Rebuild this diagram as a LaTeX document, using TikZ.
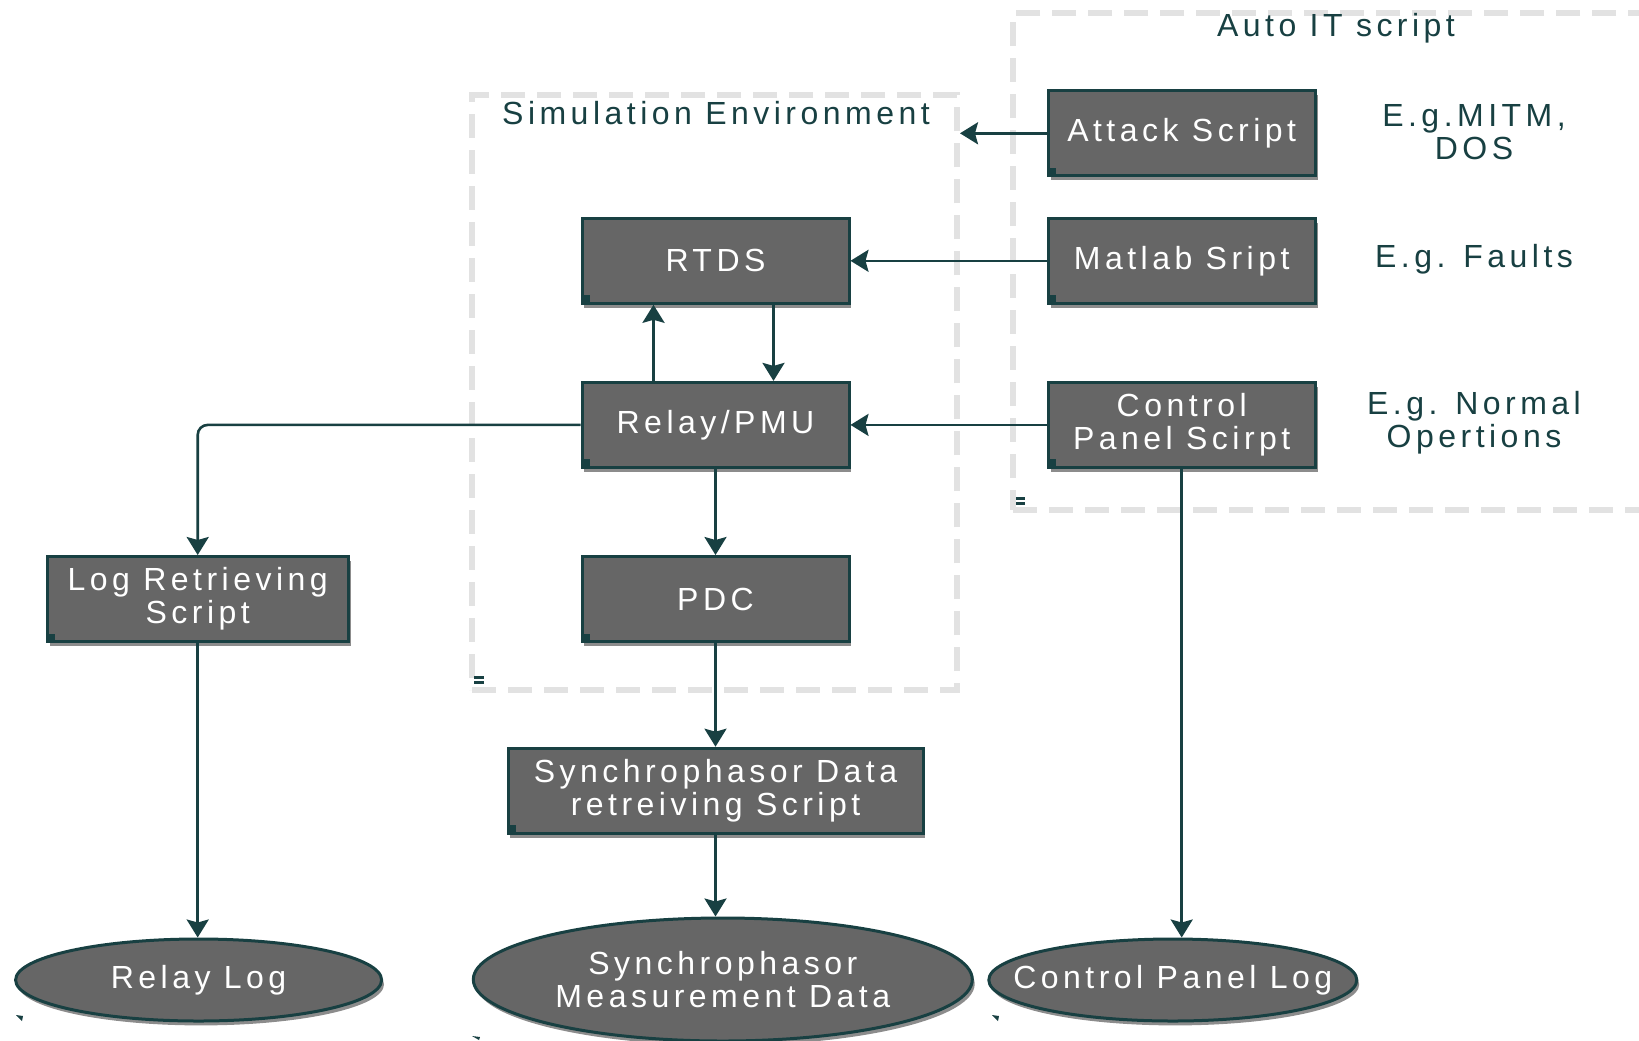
\documentclass[tikz,border=0pt]{standalone}
\usepackage{fontspec}
\setmainfont[LetterSpace=14]{Liberation Sans}
\usetikzlibrary{arrows.meta,shapes.geometric,shadows}
\definecolor{tealdk}{RGB}{24,64,66}
\definecolor{boxgray}{RGB}{102,102,102}
\definecolor{zonegray}{RGB}{226,226,226}
\begin{document}
\begin{tikzpicture}[x=0.5pt,y=-0.5pt,
  txt/.style={font=\fontsize{16}{16.5}\selectfont},
  shad/.style={drop shadow={shadow xshift=1.2pt,shadow yshift=-2.2pt,opacity=0.45,fill=black}},
  box/.style={txt,draw=tealdk,line width=1.5pt,fill=boxgray,text=white,
    minimum width=133.5pt,minimum height=42.5pt,inner sep=2pt,align=center,shad,
    path picture={\fill[tealdk] (path picture bounding box.south west) rectangle ++(4pt,4pt);}},
  oval/.style={txt,ellipse,draw=tealdk,line width=1.5pt,fill=boxgray,text=white,
    inner xsep=-30pt,inner ysep=-8pt,align=center,shad},
  zone/.style={draw=zonegray,line width=3pt,dash pattern=on 12pt off 6pt,
    inner sep=0pt,fill=none},
  lbl/.style={txt,text=tealdk,align=center},
  conn/.style={draw=tealdk,line width=1.3pt,-{Stealth[length=9pt,width=11pt,inset=1.5pt]}}
]
\useasboundingbox (0,0) rectangle (1639,1040);
\clip (0,0) rectangle (1639,1040);
\fill[white] (0,0) rectangle (1639,1040);

% zones
\node[zone,minimum width=242.5pt,minimum height=297.5pt] (simenv) at (714.5,392.5) {};
\node[zone,minimum width=323.5pt,minimum height=248.5pt] (autoit) at (1336.5,261.5) {};

% labels
\node[lbl] (lauto) at (1336,28) {Auto IT script};
\node[lbl] (lsim) at (716,113) {Simulation Environment};
\node[lbl] (lmitm) at (1474,132) {E.g.MITM,\\DOS};
\node[lbl] (lfault) at (1474,259) {E.g. Faults};
\node[lbl] (lnorm) at (1474,423) {E.g. Normal\\Opertions};

% boxes
\node[box] (attack) at (1181.7,133.3) {Attack Script};
\node[box] (matlab) at (1181.7,260.8) {Matlab Sript};
\node[box] (control) at (1181.7,424.9) {Control\\Panel Scirpt};
\node[box] (rtds) at (715.5,260.8) {RTDS};
\node[box] (relay) at (715.5,424.9) {Relay/PMU};
\node[box] (pdc) at (715.5,599) {PDC};
\node[box,minimum width=150.5pt] (logret) at (197.7,599) {Log Retrieving\\Script};
\node[box,minimum width=207.5pt] (syncret) at (715.5,790.7) {Synchrophasor Data\\retreiving Script};

% ellipses
\node[oval,minimum width=183pt,minimum height=41pt] (relaylog) at (198.6,980) {Relay Log};
\node[oval,minimum width=249.5pt,minimum height=61.5pt] (syncmeas) at (722.8,979.5) {Synchrophasor\\Measurement Data};
\node[oval,minimum width=184pt,minimum height=41pt] (cplog) at (1172.8,980) {Control Panel Log};

% connectors
\draw[conn] (attack.west) -- (attack.west -| simenv.east);
\draw[conn] (matlab.west) -- (rtds.east);
\draw[conn] (control.west) -- (relay.east);
\draw[conn] ([xshift=29pt]rtds.south) -- ([xshift=29pt]relay.north);
\draw[conn] ([xshift=-31pt]relay.north) -- ([xshift=-31pt]rtds.south);
\draw[conn,rounded corners=5pt] (relay.west) -| (logret.north);
\draw[conn] (relay.south) -- (pdc.north);
\draw[conn] (pdc.south) -- (syncret.north);
\draw[conn] (logret.south) -- (logret.south |- relaylog.north);
\draw[conn] (syncret.south) -- (syncret.south |- syncmeas.north);
\draw[conn] (control.south) -- (control.south |- cplog.north);

% small marks
\fill[tealdk] (474,676) rectangle (484,678.5);
\fill[tealdk] (474,681) rectangle (484,684);
\fill[tealdk] (1016,497) rectangle (1025,499.5);
\fill[tealdk] (1016,502) rectangle (1025,505);
\fill[tealdk] (16,1015) -- (23,1016) -- (22,1021) -- cycle;
\fill[tealdk] (472,1036) -- (480,1037) -- (479,1040) -- cycle;
\fill[tealdk] (992,1015) -- (999,1016) -- (998,1021) -- cycle;
\end{tikzpicture}
\end{document}
